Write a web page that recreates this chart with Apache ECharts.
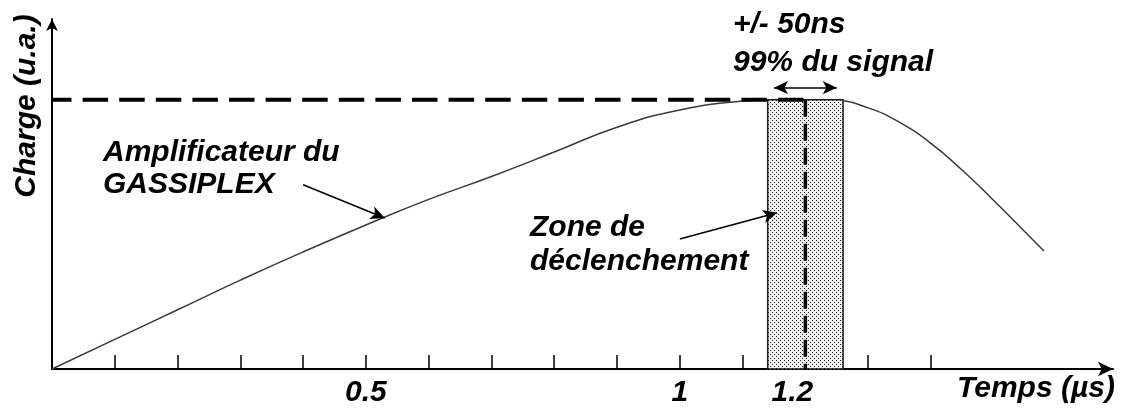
<!DOCTYPE html>
<html>
<head>
<meta charset="utf-8">
<script src="https://cdn.jsdelivr.net/npm/echarts@6/dist/echarts.min.js"></script>
<style>
html,body{margin:0;padding:0;background:#fff;}
#chart{width:1122px;height:410px;}
</style>
</head>
<body>
<div id="chart"></div>
<script>
// ---- data ----
const timeUs = [0, 0.1, 0.2, 0.3, 0.4, 0.5, 0.6, 0.7, 0.8, 0.9, 1.0, 1.1, 1.15, 1.2, 1.25, 1.3, 1.35, 1.4, 1.45, 1.5, 1.55, 1.58];
const charge = [0, 0.11, 0.22, 0.33, 0.435, 0.535, 0.63, 0.715, 0.806, 0.898, 0.962, 0.995, 1.0, 1.0, 0.997, 0.97, 0.916, 0.838, 0.738, 0.626, 0.509, 0.438];
const tickValues = [0.1, 0.2, 0.3, 0.4, 0.5, 0.6, 0.7, 0.8, 0.9, 1.0, 1.1, 1.2, 1.3, 1.4];
const labelValues = [0.5, 1, 1.2];
const labelTexts = ['0.5', '1', '1.2'];
const peakTime = 1.2;
const peakCharge = 1.0;
const zoneStart = 1.14;
const zoneEnd = 1.26;
const windowHalf = 0.05;       // +/- 50 ns
const arrowGassiplex = [[0.40, 0.684], [0.53, 0.561]];
const arrowZone = [[1.0, 0.483], [1.155, 0.58]];
const windowArrowLevel = 1.045;

const FONT = '"Liberation Sans", Arial, sans-serif';

function dotPattern() {
  const c = document.createElement('canvas');
  c.width = 4; c.height = 4;
  const g = c.getContext('2d');
  g.fillStyle = '#f0f0f0'; g.fillRect(0, 0, 4, 4);
  g.fillStyle = '#222';
  g.fillRect(0, 0, 1, 1);
  g.fillRect(2, 2, 1, 1);
  return c;
}
const pattern = dotPattern();

const chart = echarts.init(document.getElementById('chart'), null, {renderer: 'canvas'});

function txt(text, x, y, opts) {
  opts = opts || {};
  return {
    type: 'text', x: x, y: y, rotation: opts.rotation || 0, z: 100,
    style: {
      text: text,
      font: 'italic bold ' + (opts.size || 30) + 'px ' + FONT,
      fill: '#000',
      align: opts.align || 'left', textAlign: opts.align || 'left',
      verticalAlign: 'middle', textVerticalAlign: 'middle'
    }
  };
}

const option = {
  animation: false,
  backgroundColor: '#fff',
  grid: {left: 52, right: 9, top: 19, bottom: 41, containLabel: false},
  xAxis: {
    type: 'value', min: 0, max: 1.69,
    axisLine: {show: true, onZero: false, symbol: ['none', 'arrow'], symbolSize: [11, 15],
      lineStyle: {color: '#000', width: 2}},
    axisTick: {show: true, inside: true, length: 14, customValues: tickValues,
      lineStyle: {color: '#000', width: 1.5}},
    axisLabel: {
      show: true, customValues: labelValues, margin: 9,
      color: '#000', fontSize: 30, fontWeight: 'bold', fontStyle: 'italic', fontFamily: FONT,
      formatter: function (v) {
        let i = labelValues.findIndex(function (l) { return Math.abs(l - v) < 1e-6; });
        const t = i >= 0 ? labelTexts[i] : '';
        return t === '1.2' ? '{s|' + t + '}' : t;
      },
      rich: {s: {padding: [0, 26, 0, 0], fontSize: 30, fontWeight: 'bold', fontStyle: 'italic', fontFamily: FONT, color: '#000'}}
    },
    splitLine: {show: false}
  },
  yAxis: {
    type: 'value', min: 0, max: 1.3,
    axisLine: {show: true, onZero: false, symbol: ['none', 'arrow'], symbolSize: [9, 12],
      lineStyle: {color: '#000', width: 2}},
    axisTick: {show: false},
    axisLabel: {show: false},
    splitLine: {show: false}
  },
  series: [
    {
      name: 'GASSIPLEX', type: 'line', z: 2,
      data: timeUs.map(function (t, i) { return [t, charge[i]]; }),
      smooth: true, showSymbol: false, symbol: 'none',
      lineStyle: {color: '#3a3a3a', width: 1.5},
      markLine: {
        silent: true, z: 6,
        symbol: ['none', 'arrow'], symbolSize: [10, 14],
        label: {show: false},
        lineStyle: {type: 'solid', color: '#000', width: 1.6},
        data: [
          [{coord: arrowGassiplex[0]}, {coord: arrowGassiplex[1]}],
          [{coord: arrowZone[0]}, {coord: arrowZone[1]}],
          [{coord: [peakTime - windowHalf, windowArrowLevel], symbol: 'arrow'},
           {coord: [peakTime + windowHalf, windowArrowLevel], symbol: 'arrow'}]
        ]
      }
    },
    {
      name: 'zone', type: 'custom', z: 3,
      data: [[zoneStart, zoneEnd, peakCharge]],
      encode: {x: [0, 1], y: 2},
      renderItem: function (params, api) {
        const p0 = api.coord([api.value(0), api.value(2)]);
        const p1 = api.coord([api.value(1), 0]);
        return {
          type: 'rect',
          shape: {x: p0[0], y: p0[1], width: p1[0] - p0[0], height: p1[1] - p0[1]},
          style: {fill: {image: pattern, repeat: 'repeat'}, stroke: '#1a1a1a', lineWidth: 1.5}
        };
      }
    },
    {
      name: 'niveau', type: 'line', z: 4, symbol: 'none', showSymbol: false,
      data: [[0, peakCharge], [peakTime, peakCharge]],
      lineStyle: {color: '#000', width: 4, type: [25.5, 11.1], dashOffset: 6}
    },
    {
      name: 'instant', type: 'line', z: 4, symbol: 'none', showSymbol: false,
      data: [[peakTime, peakCharge], [peakTime, 0]],
      lineStyle: {color: '#000', width: 3.5, type: [17, 7]}
    }
  ],
  graphic: [
    txt('Charge (u.a.)', 27, 106, {rotation: Math.PI / 2, align: 'center'}),
    txt('Amplificateur du', 103, 153),
    txt('GASSIPLEX', 103, 185),
    txt('Zone de', 530, 228),
    txt('déclenchement', 530, 262),
    txt('+/- 50ns', 733, 25),
    txt('99% du signal', 733, 63),
    txt('Temps (µs)', 957, 389)
  ]
};
chart.setOption(option);
</script>
</body>
</html>
